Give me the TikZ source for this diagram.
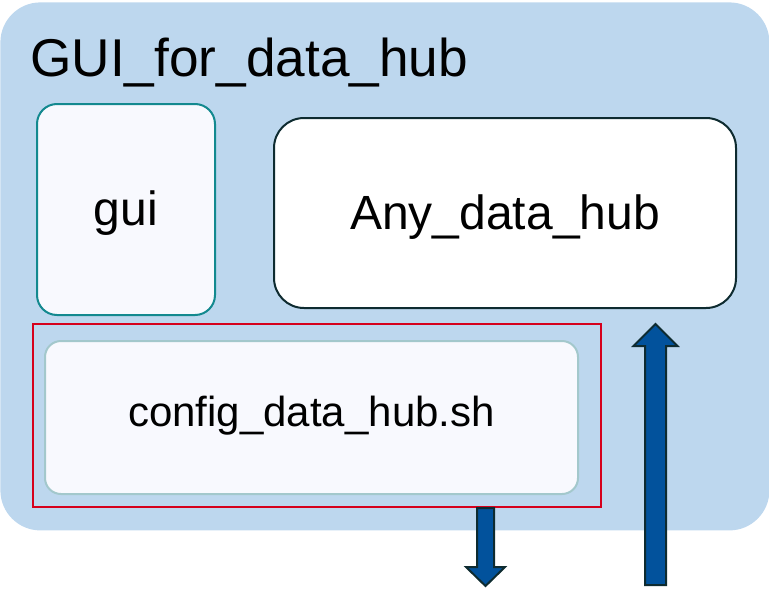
\documentclass[tikz,border=0pt]{standalone}
\usepackage{fontspec}
\setmainfont{Liberation Sans}
\usepackage{tikz}
\usetikzlibrary{calc,positioning}
\definecolor{hubblue}{HTML}{BDD7EE}
\definecolor{boxwhite}{HTML}{F8F9FE}
\definecolor{guiteal}{HTML}{13898F}
\definecolor{cfgteal}{HTML}{A3C8CC}
\definecolor{darkline}{HTML}{0E2B30}
\definecolor{frred}{HTML}{D6001C}
\definecolor{arrowblue}{HTML}{02529C}
\tikzset{
    x=0.5pt,y=-0.5pt,
    frame/.style ={draw=none, fill=hubblue, rounded corners=20pt, inner sep=0pt},
    module/.style ={draw, line width=1pt, rounded corners=#1, inner sep=0pt},
    redbox/.style ={draw=frred, line width=1pt, inner sep=0pt},
    blockarrow/.style={draw=darkline, fill=arrowblue, line width=1pt, line join=miter},
    big/.style ={font=\fontsize{24}{28}\selectfont}
}

\begin{document}
\begin{tikzpicture}
    \useasboundingbox (0,0) rectangle (769,589);
    % frame
    \node (hub) [frame, minimum width=384.5pt, minimum height=264pt, anchor=north west] at (0,2) {};
    \node (title) [anchor=base west, inner sep=0pt, font=\fontsize{26.6}{30}\selectfont] at (30,76) {GUI\_for\_data\_hub};

    % modules
    \node (gui) [module=10pt, draw=guiteal, fill=boxwhite, minimum width=89pt, minimum height=105.5pt] at (126,209.5) {};
    \node (any) [module=15pt, draw=darkline, fill=white, minimum width=231pt, minimum height=95pt] at (505,213) {};
    \node (red) [redbox, minimum width=284pt, minimum height=91.5pt] at (317,415.5) {};
    \node (cfg) [module=8pt, draw=cfgteal, fill=boxwhite, minimum width=266.5pt, minimum height=76.5pt] at (311.5,417.5) {};

    \node [big] at ($(gui)+(0,4)$) {gui};
    \node [big] at ($(any)+(0,4)$) {Any\_data\_hub};
    \node [font=\fontsize{21}{25}\selectfont] at ($(cfg)+(0,-2)$) {config\_data\_hub.sh};

    % arrows
    \coordinate (out) at (485.5,586);
    \coordinate (in) at (655.5,585);
    \coordinate (outtail) at (red.south -| out);
    \coordinate (intip) at ($(any.south -| in)+(0,15)$);

    \draw[blockarrow] ($(outtail)+(-8.5,0)$) -- ($(out)+(-8.5,-19)$) -- ($(out)+(-19.5,-19)$) -- (out)
        -- ($(out)+(19.5,-19)$) -- ($(out)+(8.5,-19)$) -- ($(outtail)+(8.5,0)$) -- cycle;
    \draw[blockarrow] ($(in)+(-10.5,0)$) -- ($(intip)+(-10.5,22)$) -- ($(intip)+(-22,22)$) -- (intip)
        -- ($(intip)+(22,22)$) -- ($(intip)+(10.5,22)$) -- ($(in)+(10.5,0)$) -- cycle;

\end{tikzpicture}
\end{document}
